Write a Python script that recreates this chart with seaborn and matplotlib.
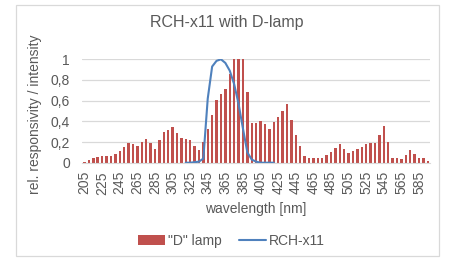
import numpy as np
import pandas as pd
import matplotlib
matplotlib.use("Agg")
import matplotlib.pyplot as plt
import seaborn as sns
from matplotlib.patches import Rectangle, Patch
from matplotlib.lines import Line2D

# "D" lamp intensity, one bar per 5 nm (205 .. 595 nm)
wavelength = list(range(205, 600, 5))
lamp = [0.01, 0.03, 0.05, 0.058, 0.068, 0.064, 0.064, 0.084, 0.113, 0.148,
        0.187, 0.177, 0.164, 0.203, 0.232, 0.187, 0.135, 0.219, 0.30, 0.32,
        0.35, 0.29, 0.235, 0.225, 0.22, 0.165, 0.12, 0.20, 0.33, 0.46,
        0.61, 0.66, 0.71, 0.86, 1.0, 1.0, 1.0, 0.68, 0.38, 0.38,
        0.40, 0.37, 0.33, 0.39, 0.44, 0.50, 0.57, 0.41, 0.27, 0.16,
        0.06, 0.05, 0.045, 0.045, 0.045, 0.07, 0.105, 0.14, 0.18, 0.135,
        0.09, 0.11, 0.135, 0.155, 0.185, 0.19, 0.195, 0.27, 0.355, 0.20,
        0.05, 0.042, 0.035, 0.075, 0.12, 0.08, 0.05, 0.042, 0.02]

# RCH-x11 relative responsivity (320 .. 420 nm)
rch_wavelength = list(range(320, 425, 5))
rch = [0.0, 0.0, 0.005, 0.01, 0.04, 0.62, 0.93, 0.985, 1.0, 0.965,
       0.89, 0.76, 0.57, 0.33, 0.10, 0.03, 0.01, 0.0, 0.0, 0.0, 0.0]

xtick_labels = list(range(205, 590, 20))
ytick_values = [0, 0.2, 0.4, 0.6, 0.8, 1.0]

sns.set_style("white")
plt.rcParams["font.family"] = ["Liberation Sans", "DejaVu Sans"]

text_color = "#595959"
grid_color = "#D9D9D9"
bar_color = "#C0504D"
line_color = "#4F81BD"

fig = plt.figure(figsize=(4.49, 2.59), dpi=100)
ax = fig.add_axes([82.3 / 449, 1 - 162.7 / 259, 347.7 / 449, 103.4 / 259])

df_lamp = pd.DataFrame({"wavelength": wavelength, "lamp": lamp})
df_rch = pd.DataFrame({"wavelength": rch_wavelength, "rch": rch})

sns.barplot(data=df_lamp, x="wavelength", y="lamp", native_scale=True,
            width=0.55, color=bar_color, saturation=1, errorbar=None,
            linewidth=0, ax=ax, zorder=2)
sns.lineplot(data=df_rch, x="wavelength", y="rch", color=line_color,
             linewidth=1.5, ax=ax, zorder=3)

ax.set_xlim(202.5, 597.5)
ax.set_ylim(0, 1)
ax.set_xticks(xtick_labels)
ax.set_xticklabels([str(v) for v in xtick_labels], rotation=90)
ax.set_yticks(ytick_values)
ax.set_yticklabels([("%g" % v).replace(".", ",") for v in ytick_values])
ax.tick_params(axis="both", length=0, labelsize=10, colors=text_color)
ax.tick_params(axis="y", pad=9)
ax.tick_params(axis="x", pad=6)

ax.yaxis.grid(True, color=grid_color, linewidth=0.9, zorder=0)
ax.xaxis.grid(False)
ax.set_axisbelow(True)
for side in ["top", "right", "left"]:
    ax.spines[side].set_visible(False)
ax.spines["bottom"].set_color(grid_color)

ax.set_xlabel("wavelength [nm]", fontsize=10, color=text_color)
ax.set_ylabel("rel. responsivity / intensity", fontsize=10, color=text_color)
ax.xaxis.set_label_coords(0.498, -0.38)
ax.yaxis.set_label_coords(-0.116, 0.47)

fig.text(227 / 449, 1 - 23 / 259, "RCH-x11 with D-lamp", ha="center", va="center",
         fontsize=11.5, color=text_color)

handles = [Patch(facecolor=bar_color, edgecolor="none", label='"D" lamp'),
           Line2D([0], [0], color=line_color, linewidth=1.5, label="RCH-x11")]
fig.legend(handles=handles, loc="center", bbox_to_anchor=(0.515, 1 - 240.7 / 259),
           ncol=2, frameon=False, fontsize=10, handlelength=2.0,
           columnspacing=1.2, handletextpad=0.2, labelcolor=text_color)

fig.patches.append(Rectangle((16 / 449, 1 - 256 / 259), 423 / 449, 251 / 259,
                             transform=fig.transFigure, fill=False,
                             edgecolor=grid_color, linewidth=0.9))

fig.savefig("out.png", dpi=100, facecolor="white")
